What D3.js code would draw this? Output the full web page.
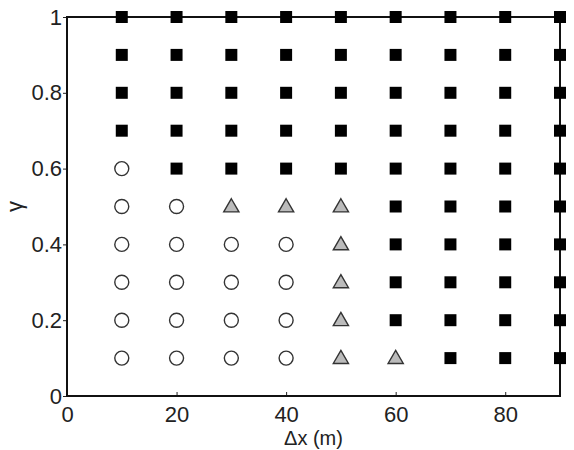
<!DOCTYPE html>
<html>
<head>
<meta charset="utf-8">
<script src="https://cdn.jsdelivr.net/npm/d3@7"></script>
<style>
  body { margin: 0; background: #fff; }
  text { font-family: "Liberation Sans", Arial, sans-serif; }
</style>
</head>
<body>
<div id="chart"></div>
<script>
'use strict';

const width = 574,
    height = 450,
    margin = {top: 17, right: 14, bottom: 54, left: 67},
    fontSize = 22;

// grid of runs: spacing (m) and gamma
const dxValues = [10, 20, 30, 40, 50, 60, 70, 80, 90];
const gammaValues = [0.1, 0.2, 0.3, 0.4, 0.5, 0.6, 0.7, 0.8, 0.9, 1.0];
// regime per cell, rows follow gammaValues, columns follow dxValues
// o = open circle, t = grey triangle, s = black square
const regimeRows = [
    "oooottsss",
    "ooootssss",
    "ooootssss",
    "ooootssss",
    "oottt" + "ssss",
    "osssssss" + "s",
    "sssssssss",
    "sssssssss",
    "sssssssss",
    "sssssssss"
];
const xTicks = [0, 20, 40, 60, 80];
const yTicks = [0, 0.2, 0.4, 0.6, 0.8, 1];

let cells = [];
gammaValues.forEach((g, i) => {
    dxValues.forEach((dx, j) => {
        cells.push({dx: dx, gamma: g, regime: regimeRows[i][j]});
    });
});

const svg = d3.select("#chart")
    .append("svg")
    .attr("width", width)
    .attr("height", height);

const xScale = d3.scaleLinear()
    .domain([0, 90])
    .range([margin.left, width - margin.right]);
const yScale = d3.scaleLinear()
    .domain([0, 1])
    .range([height - margin.bottom, margin.top]);

const xAxis = d3.axisBottom(xScale).tickValues(xTicks).tickSize(-4).tickPadding(10)
    .tickFormat(d3.format("d"));
const yAxis = d3.axisLeft(yScale).tickValues(yTicks).tickSize(4).tickPadding(1)
    .tickFormat(d => d === 0 || d === 1 ? d3.format("d")(d) : d3.format(".1f")(d));

svg.append("g")
    .attr("class", "axis x-axis")
    .attr("transform", `translate(0, ${height - margin.bottom})`)
    .call(xAxis);

svg.append("g")
    .attr("class", "axis y-axis")
    .attr("transform", `translate(${margin.left}, 0)`)
    .call(yAxis);

svg.selectAll(".axis .domain").remove();
svg.selectAll(".axis text")
    .attr("font-size", fontSize)
    .attr("fill", "#222")
    .attr("font-family", "Liberation Sans, Arial, sans-serif");
svg.selectAll(".axis line").attr("stroke", "#222").attr("stroke-width", 1);

// box
svg.append("rect")
    .attr("x", xScale(0))
    .attr("y", yScale(1))
    .attr("width", xScale(90) - xScale(0))
    .attr("height", yScale(0) - yScale(1))
    .attr("fill", "none")
    .attr("stroke", "#111")
    .attr("stroke-width", 2);

const sym = {
    o: d3.symbol().type(d3.symbolCircle).size(Math.PI * 49),
    t: d3.symbol().type(d3.symbolTriangle).size(100),
    s: d3.symbol().type(d3.symbolSquare).size(144)
};

svg.selectAll(".dot")
    .data(cells)
    .join("path")
    .attr("class", "dot")
    .attr("transform", d => `translate(${xScale(d.dx)}, ${yScale(d.gamma) + (d.regime === "t" ? 1 : 0)})`)
    .attr("d", d => sym[d.regime]())
    .attr("fill", d => d.regime === "s" ? "#000" : d.regime === "t" ? "#bbb" : "#fff")
    .attr("stroke", d => d.regime === "s" ? "none" : "#333")
    .attr("stroke-width", 1.4);

svg.append("text")
    .attr("x", (xScale(0) + xScale(90)) / 2)
    .attr("y", 445)
    .attr("text-anchor", "middle")
    .attr("font-size", 20)
    .attr("fill", "#222")
    .text("Δx (m)");

svg.append("text")
    .attr("transform", `translate(22, ${(yScale(0) + yScale(1)) / 2}) rotate(-90)`)
    .attr("text-anchor", "middle")
    .attr("font-size", fontSize)
    .attr("fill", "#222")
    .text("γ");
</script>
</body>
</html>
